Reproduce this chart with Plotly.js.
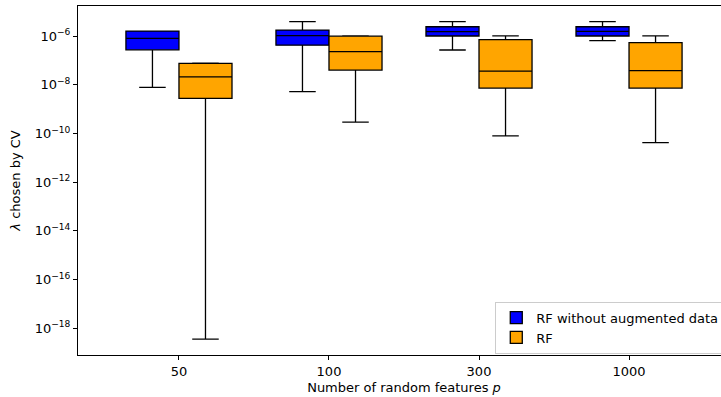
<!DOCTYPE html>
<html>
<head>
<meta charset="utf-8">
<script src="https://cdn.plot.ly/plotly-3.0.1.min.js"></script>
<style>
html, body { margin: 0; padding: 0; overflow: hidden; background: #fff; }
#chart { width: 760px; height: 397px; }
</style>
</head>
<body>
<div id="chart"></div>
<script>
const categories = ['50', '100', '300', '1000'];

// RF without augmented data
const blueLower  = [7.8e-9, 5.2e-9, 2.66e-7, 6.5e-7];
const blueQ1     = [2.7e-7, 4.2e-7, 1.0e-6, 1.0e-6];
const blueMedian = [8.0e-7, 1.03e-6, 1.5e-6, 1.55e-6];
const blueQ3     = [1.6e-6, 1.76e-6, 2.4e-6, 2.4e-6];
const blueUpper  = [1.6e-6, 3.9e-6, 3.9e-6, 3.9e-6];

// RF
const orangeLower  = [3.6e-19, 2.9e-10, 7.9e-11, 4.2e-11];
const orangeQ1     = [2.75e-9, 4.0e-8, 7.3e-9, 7.3e-9];
const orangeMedian = [2.1e-8, 2.27e-7, 3.6e-8, 3.8e-8];
const orangeQ3     = [7.5e-8, 9.8e-7, 7.1e-7, 5.3e-7];
const orangeUpper  = [7.6e-8, 1.02e-6, 1.02e-6, 1.02e-6];

const yTickVals = [1e-6, 1e-8, 1e-10, 1e-12, 1e-14, 1e-16, 1e-18];
const yTickText = ['10<sup>−6</sup>', '10<sup>−8</sup>', '10<sup>−10</sup>', '10<sup>−12</sup>',
                   '10<sup>−14</sup>', '10<sup>−16</sup>', '10<sup>−18</sup>'];

const traces = [
  {
    type: 'box', name: 'RF without augmented data', x: categories,
    q1: blueQ1, median: blueMedian, q3: blueQ3,
    lowerfence: blueLower, upperfence: blueUpper,
    fillcolor: '#0000ff', line: {color: '#000000', width: 1.3},
    whiskerwidth: 0.5, boxpoints: false, hoverinfo: 'skip'
  },
  {
    type: 'box', name: 'RF', x: categories,
    q1: orangeQ1, median: orangeMedian, q3: orangeQ3,
    lowerfence: orangeLower, upperfence: orangeUpper,
    fillcolor: '#ffa500', line: {color: '#000000', width: 1.3},
    whiskerwidth: 0.5, boxpoints: false, hoverinfo: 'skip'
  }
];

const font = {family: 'DejaVu Sans', size: 13, color: '#000'};

const layout = {
  width: 760, height: 397,
  margin: {l: 78, r: 30, t: 6, b: 42},
  paper_bgcolor: '#fff', plot_bgcolor: '#fff',
  font: font,
  boxmode: 'group', boxgap: 0.293, boxgroupgap: 0,
  showlegend: true,
  legend: {
    x: 0.64, y: 0.153, xanchor: 'left', yanchor: 'top',
    bgcolor: 'rgba(255,255,255,0.8)', bordercolor: '#cccccc', borderwidth: 1,
    font: font, tracegroupgap: 0
  },
  xaxis: {
    type: 'category', range: [-0.673, 3.673],
    showline: true, linecolor: '#000', linewidth: 1, mirror: true,
    ticks: 'outside', ticklen: 4, tickcolor: '#000', tickwidth: 1,
    showgrid: false, zeroline: false, tickfont: font,
    title: {text: 'Number of random features <i>p</i>', font: font, standoff: 5}
  },
  yaxis: {
    type: 'log', range: [-19.096, -4.768],
    tickvals: yTickVals, ticktext: yTickText,
    showline: true, linecolor: '#000', linewidth: 1, mirror: true,
    ticks: 'outside', ticklen: 4, tickcolor: '#000', tickwidth: 1,
    showgrid: false, zeroline: false, tickfont: font,
    title: {text: '<i>λ</i> chosen by CV', font: font, standoff: 11}
  }
};

Plotly.newPlot('chart', traces, layout, {staticPlot: true, displayModeBar: false});
</script>
</body>
</html>
